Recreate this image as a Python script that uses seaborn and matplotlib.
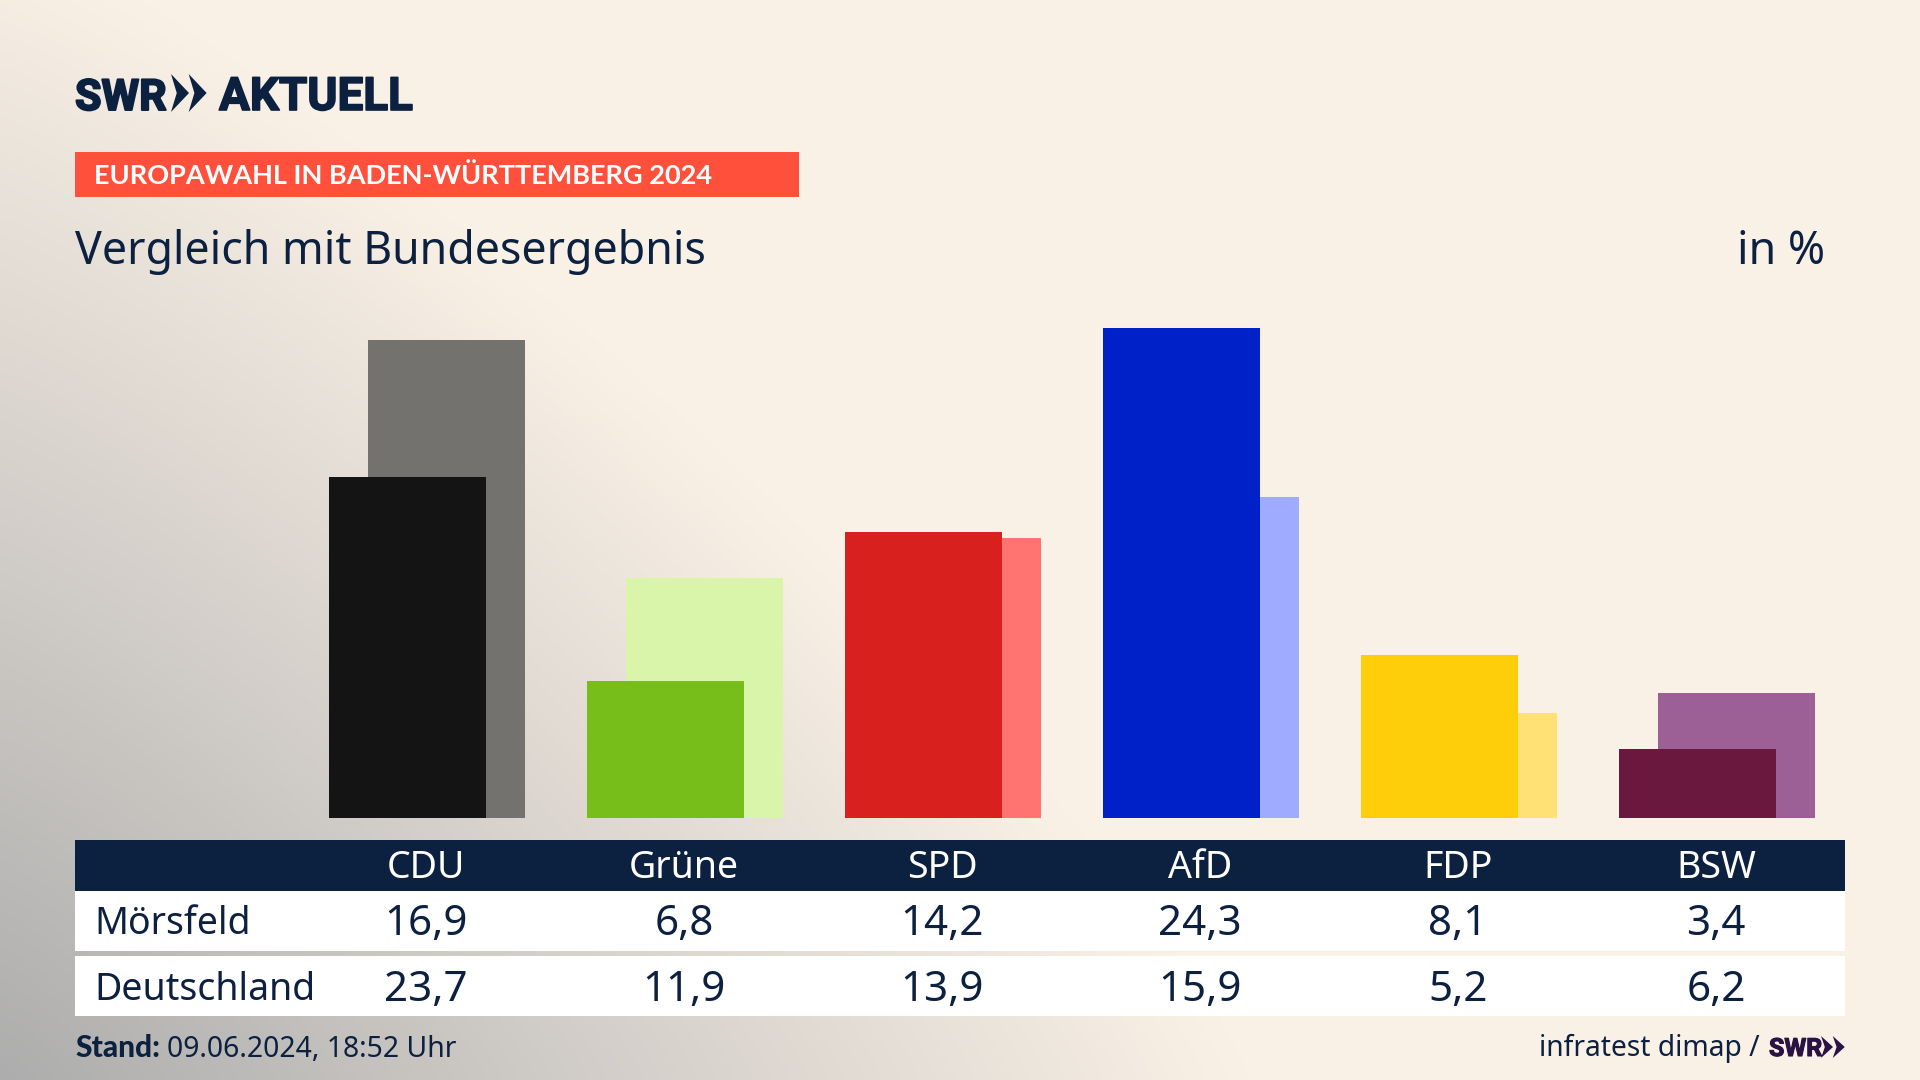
import numpy as np
import matplotlib
matplotlib.use("Agg")
import matplotlib.pyplot as plt
import matplotlib.patheffects as pe
from matplotlib.patches import Rectangle, Polygon
from matplotlib.colors import to_rgb
import seaborn as sns

# --- data ---
parties = ["CDU", "Grüne", "SPD", "AfD", "FDP", "BSW"]
moersfeld = [16.9, 6.8, 14.2, 24.3, 8.1, 3.4]
deutschland = [23.7, 11.9, 13.9, 15.9, 5.2, 6.2]
front_colors = ["#141414", "#78BE1A", "#D8201E", "#0020C8", "#FFCE0A", "#6B183E"]
back_colors = ["#74726F", "#D8F5A9", "#FF7370", "#9EABFF", "#FFE175", "#9C5F96"]
row_names = ["Mörsfeld", "Deutschland"]
kicker = "EUROPAWAHL IN BADEN-WÜRTTEMBERG 2024"
title = "Vergleich mit Bundesergebnis"
unit = "in %"
stand_label = "Stand:"
stand_value = "09.06.2024, 18:52 Uhr"
source = "infratest dimap /"

W, H = 1920, 1080
NAVY = "#0C2040"
FONT = "Noto Sans"
LOGO = ["Roboto", "DejaVu Sans"]
BOLD = ["Lato", "DejaVu Sans"]

sns.set_theme(style="white")
plt.rcParams["font.family"] = [FONT, "DejaVu Sans"]

fig = plt.figure(figsize=(W / 100, H / 100), dpi=100)

bg = fig.add_axes([0, 0, 1, 1], zorder=0)
yy, xx = np.mgrid[0:H, 0:W]
p = 1.2
d = ((xx / 1250.0) ** p + ((H - yy) / 1150.0) ** p) ** (1 / p)
t = np.clip(d, 0, 1)[..., None]
grey = np.array(to_rgb("#ADADAD"))
beige = np.array(to_rgb("#FAF1E6"))
img = grey * (1 - t) + beige * t
bg.imshow((img * 255).astype(np.uint8), extent=(0, W, H, 0), aspect="auto",
          interpolation="nearest", zorder=0)
bg.set_xlim(0, W)
bg.set_ylim(H, 0)
bg.axis("off")


def chevrons(x, y0, y1, w, color):
    """double chevron logo mark; w is the width of one chevron"""
    ym = (y0 + y1) / 2
    for off in (0, w * 0.98):
        pts = [(x + off, y0), (x + off + w, ym), (x + off, y1), (x + off + w * 0.32, ym)]
        bg.add_patch(Polygon(pts, closed=True, fc=color, ec="none", zorder=3))


def heavy(color, lw):
    return [pe.withStroke(linewidth=lw, foreground=color)]


# logo
bg.text(75, 110, "SWR", fontsize=31, fontweight="bold", family=LOGO, color=NAVY, va="baseline", ha="left", zorder=3,
        path_effects=heavy(NAVY, 1.4))
chevrons(171, 74, 112, 18, NAVY)
bg.text(219, 110, "AKTUELL", fontsize=33, fontweight="bold", family=LOGO, color=NAVY, va="baseline", ha="left", zorder=3,
        path_effects=heavy(NAVY, 1.2))

# kicker band
bg.add_patch(Rectangle((75, 152), 724, 45, fc="#FF503C", ec="none", zorder=2))
bg.text(93.5, 184.5, kicker, fontsize=19.5, fontweight="bold", family=BOLD, color="white",
        va="baseline", ha="left", zorder=3)

# title
bg.text(75, 264, title, fontsize=32.2, color=NAVY, va="baseline", ha="left", zorder=3)
bg.text(1825, 264, unit, fontsize=32.2, color=NAVY, va="baseline", ha="right", zorder=3)

# table
bg.add_patch(Rectangle((75, 840), 1770, 51, fc=NAVY, ec="none", zorder=2))
bg.add_patch(Rectangle((75, 891), 1770, 60, fc="white", ec="none", zorder=2))
bg.add_patch(Rectangle((75, 956), 1770, 60, fc="white", ec="none", zorder=2))

STEP = 258
X0 = 426
for i, party in enumerate(parties):
    cx = X0 + i * STEP
    bg.text(cx, 878, party, fontsize=27, color="white", ha="center", va="baseline", zorder=3)
    bg.text(cx, 935, f"{moersfeld[i]:.1f}".replace(".", ","), fontsize=30.3, color=NAVY,
            ha="center", va="baseline", zorder=3)
    bg.text(cx, 1001, f"{deutschland[i]:.1f}".replace(".", ","), fontsize=30.3, color=NAVY,
            ha="center", va="baseline", zorder=3)
bg.text(94, 934, row_names[0], fontsize=27, color=NAVY, ha="left", va="baseline", zorder=3)
bg.text(94, 1000, row_names[1], fontsize=27, color=NAVY, ha="left", va="baseline", zorder=3)

# footer
bg.text(75, 1057, stand_label, fontsize=21.5, fontweight="black", family=BOLD, color=NAVY, ha="left", va="baseline", zorder=3)
bg.text(167, 1057, stand_value, fontsize=20.4, color=NAVY, ha="left", va="baseline", zorder=3)
bg.text(1760, 1056, source, fontsize=20.3, color=NAVY, ha="right", va="baseline", zorder=3)
bg.text(1769, 1056, "SWR", fontsize=18, fontweight="bold", family=LOGO, color="#2A1245", ha="left", va="baseline", zorder=3,
        path_effects=heavy("#2A1245", 0.8))
chevrons(1821, 1036, 1058, 12, "#2A1245")

# bars: two overlaid axes sharing one scale, shifted by half the bar offset
PX_PER_UNIT = 20.17
YMAX = 25
BASE_Y = 818
BAR_W = 156.6 / STEP
BAR_X0 = X0 + 0.8


def bar_axes(center0, values, colors, z):
    left = center0 - STEP / 2
    ax = fig.add_axes([left / W, (H - BASE_Y) / H, 6 * STEP / W, YMAX * PX_PER_UNIT / H], zorder=z)
    sns.barplot(x=parties, y=values, hue=parties, palette=colors, width=BAR_W,
                dodge=False, legend=False, saturation=1, linewidth=0, edgecolor="none", ax=ax)
    ax.set_xlim(-0.5, 5.5)
    ax.set_ylim(0, YMAX)
    ax.axis("off")
    ax.patch.set_alpha(0)
    return ax


bar_axes(BAR_X0 + 19.8, deutschland, back_colors, 1)
bar_axes(BAR_X0 - 19.4, moersfeld, front_colors, 2)

fig.savefig("out.png", dpi=100)
